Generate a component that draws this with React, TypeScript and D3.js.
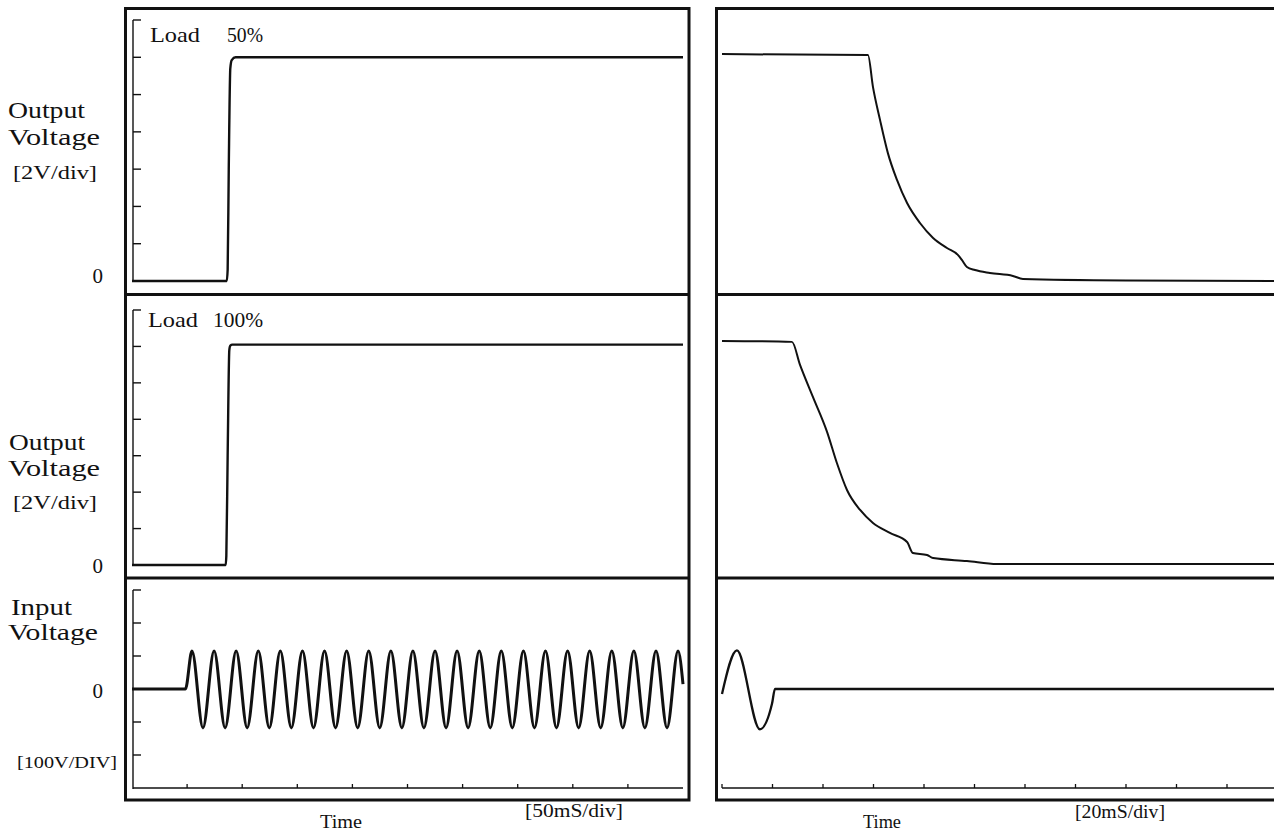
import React from "react";
import * as d3 from "d3";

// scope readings, volts / milliseconds
const loadNames = ["50%", "100%"];
const outputTicks = [2, 4, 6, 8, 10, 12, 14];
const inputTicks = [-200, -100, 0, 100, 200, 300];
const slowTicks = [50, 100, 150, 200, 250, 300, 350, 400, 450];
const fastTicks = [0, 20, 40, 60, 80, 100, 120, 140, 160, 180, 200];

// left column: power on, 50mS/div
const on50T = [0, 86, 86.8, 87.8, 89.2, 90.5, 94, 500];
const on50V = [0, 0, 0.6, 6, 11.4, 11.85, 12, 12];
const on100T = [0, 85, 85.6, 86.8, 88.3, 89.2, 91, 500];
const on100V = [0, 0, 0.5, 6, 11.8, 12.05, 12.1, 12.1];
const inOnT = [
  0, 48.5, 54.4, 64.4, 74.5, 84.5, 94.5, 104.5, 114.6, 124.6, 134.6, 144.6,
  154.7, 164.7, 174.7, 184.7, 194.8, 204.8, 214.8, 224.8, 234.9, 244.9, 254.9,
  264.9, 275.0, 285.0, 295.0, 305.0, 315.1, 325.1, 335.1, 345.1, 355.2, 365.2,
  375.2, 385.2, 395.3, 405.3, 415.3, 425.3, 435.4, 445.4, 455.4, 465.4, 475.5,
  485.5, 495.5, 500,
];
const inOnV = [
  0, 0, 115, -118, 115, -118, 115, -118, 115, -118, 115, -118, 115, -118, 115,
  -118, 115, -118, 115, -118, 115, -118, 115, -118, 115, -118, 115, -118, 115,
  -118, 115, -118, 115, -118, 115, -118, 115, -118, 115, -118, 115, -118, 115,
  -118, 115, -118, 115, 15,
];

// right column: power off, 20mS/div
const off50T = [0, 57.8, 59.8, 62.6, 65.7, 69.3, 73.3, 78.4, 83.6, 89.1, 93.5, 95.0, 97.0, 100.2, 106.1, 115.2, 119.2, 160, 222];
const off50V = [12.17, 12.12, 10.4, 8.63, 6.86, 5.42, 4.18, 3.11, 2.31, 1.77, 1.39, 1.13, 0.75, 0.59, 0.43, 0.27, 0.11, 0.03, 0];
const off100T = [0, 27.7, 30.9, 36.0, 41.6, 45.5, 49.5, 54.7, 59.8, 66.5, 73.3, 75.6, 81.2, 83.6, 97.0, 108.9, 222];
const off100V = [12.3, 12.25, 10.99, 9.23, 7.31, 5.6, 4.12, 3.02, 2.31, 1.76, 1.26, 0.66, 0.55, 0.38, 0.22, 0.05, 0.05];
const inOffT = [0, 5.9, 15, 19.8, 21, 222];
const inOffV = [-15, 117, -122, -45, 0, 0];

const ink = "#111";
const font = "'Liberation Serif', 'Times New Roman', serif";

const xSlow = d3.scaleLinear().domain([0, 500]).range([132, 683]);
const xFast = d3.scaleLinear().domain([0, 220]).range([722, 1277.5]);
const yOut1 = d3.scaleLinear().domain([0, 14]).range([281, 20]);
const yOut2 = d3.scaleLinear().domain([0, 14]).range([565, 310]);
const yIn = d3.scaleLinear().domain([-300, 300]).range([788, 590]);

type Sc = d3.ScaleLinear<number, number>;

const Trace = ({ x, y, ts, vs, w = 2.2 }: { x: Sc; y: Sc; ts: number[]; vs: number[]; w?: number }) => {
  const line = d3
    .line<number>()
    .x((t) => x(t))
    .y((_, i) => y(vs[i]))
    .curve(d3.curveMonotoneX);
  return <path d={line(ts) || ""} fill="none" stroke={ink} strokeWidth={w} strokeLinejoin="round" />;
};

const LeftAxis = ({ y, ticks }: { y: Sc; ticks: number[] }) => {
  const [lo, hi] = y.domain();
  return (
    <g stroke={ink} strokeWidth={1.4}>
      <line x1={133} x2={133} y1={y(hi)} y2={y(lo) + 1} />
      {ticks.map((v) => (
        <line key={v} x1={133} x2={141} y1={y(v)} y2={y(v)} />
      ))}
    </g>
  );
};

const TimeAxis = ({ x, ticks, x1, x2 }: { x: Sc; ticks: number[]; x1: number; x2: number }) => (
  <g stroke={ink} strokeWidth={1.3}>
    <line x1={x1} x2={x2} y1={788} y2={788} />
    {ticks.map((t) => (
      <line key={t} x1={x(t)} x2={x(t)} y1={788} y2={784} />
    ))}
  </g>
);

const Label = ({ x, y, size, len, anchor, children }: any) => (
  <text
    x={x}
    y={y}
    fontSize={size}
    textLength={len}
    lengthAdjust="spacingAndGlyphs"
    textAnchor={anchor || "start"}
    fill={ink}
  >
    {children}
  </text>
);

export default function App() {
  return (
    <div style={{ position: "absolute", left: 0, top: 0 }}>
      <svg width={1274} height={832} style={{ display: "block", background: "#fff" }} fontFamily={font}>
        {/* frames */}
        <g fill="none" stroke={ink} strokeWidth={3}>
          <rect x={125.5} y={8.5} width={563.5} height={791.5} />
          <rect x={716.5} y={8.5} width={620} height={791.5} />
          <line x1={125.5} x2={689} y1={294.5} y2={294.5} />
          <line x1={125.5} x2={689} y1={578} y2={578} />
          <line x1={716.5} x2={1280} y1={294.5} y2={294.5} />
          <line x1={716.5} x2={1280} y1={578} y2={578} />
        </g>

        {/* axes */}
        <LeftAxis y={yOut1} ticks={outputTicks} />
        <LeftAxis y={yOut2} ticks={outputTicks} />
        <LeftAxis y={yIn} ticks={inputTicks} />
        <TimeAxis x={xSlow} ticks={slowTicks} x1={133} x2={683} />
        <TimeAxis x={xFast} ticks={fastTicks} x1={722} x2={1280} />

        {/* traces */}
        <Trace x={xSlow} y={yOut1} ts={on50T} vs={on50V} w={2.4} />
        <Trace x={xSlow} y={yOut2} ts={on100T} vs={on100V} w={2.4} />
        <Trace x={xSlow} y={yIn} ts={inOnT} vs={inOnV} w={3} />
        <Trace x={xFast} y={yOut1} ts={off50T} vs={off50V} w={2} />
        <Trace x={xFast} y={yOut2} ts={off100T} vs={off100V} w={2} />
        <Trace x={xFast} y={yIn} ts={inOffT} vs={inOffV} w={2.3} />

        {/* load captions */}
        <Label x={150} y={42} size={22} len={50}>Load</Label>
        <Label x={227} y={42} size={22} len={36}>{loadNames[0]}</Label>
        <Label x={148} y={327} size={22} len={50}>Load</Label>
        <Label x={213} y={327} size={22} len={50}>{loadNames[1]}</Label>

        {/* y labels */}
        <Label x={8} y={118} size={23} len={77}>Output</Label>
        <Label x={8} y={145} size={23} len={92}>Voltage</Label>
        <Label x={13} y={179} size={18} len={84}>[2V/div]</Label>
        <Label x={103} y={283} size={21} anchor="end">0</Label>

        <Label x={9} y={450} size={23} len={76}>Output</Label>
        <Label x={8} y={476} size={23} len={92}>Voltage</Label>
        <Label x={13} y={509} size={18} len={84}>[2V/div]</Label>
        <Label x={103} y={573} size={21} anchor="end">0</Label>

        <Label x={11} y={615} size={23} len={61}>Input</Label>
        <Label x={8} y={640} size={23} len={90}>Voltage</Label>
        <Label x={103} y={698} size={21} anchor="end">0</Label>
        <Label x={17} y={768} size={17} len={100}>[100V/DIV]</Label>

        {/* time labels */}
        <Label x={320} y={828} size={19} len={42}>Time</Label>
        <Label x={525} y={817} size={19} len={98}>[50mS/div]</Label>
        <Label x={863} y={828} size={19} len={38}>Time</Label>
        <Label x={1075} y={818} size={19} len={90}>[20mS/div]</Label>
      </svg>
    </div>
  );
}
